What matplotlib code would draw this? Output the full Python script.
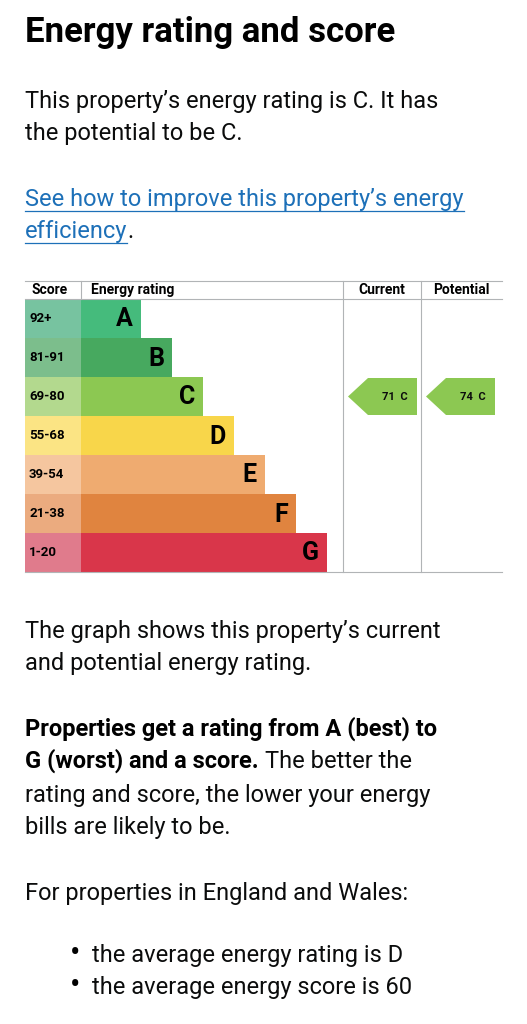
import matplotlib.pyplot as plt
from matplotlib.patches import Rectangle, Polygon

bands = ["A", "B", "C", "D", "E", "F", "G"]
scores = ["92+", "81-91", "69-80", "55-68", "39-54", "21-38", "1-20"]
bar_colors = ["#45bb7c", "#47a95f", "#8cc852", "#f8d64a", "#efab70", "#e0843f", "#d9364a"]
score_colors = ["#77c3a0", "#7cbe8c", "#b3d98e", "#fbe484", "#f5c69f", "#ebab7f", "#e07b8c"]
current_score, current_band = 71, "C"
potential_score, potential_band = 74, "C"

W, H = 527, 1024
fig = plt.figure(figsize=(W / 100, H / 100), dpi=100)
ax = fig.add_axes([0, 0, 1, 1])
ax.set_xlim(0, W)
ax.set_ylim(H, 0)
ax.axis("off")

fam = ["Roboto", "Liberation Sans", "DejaVu Sans"]
FS = 17
body = dict(fontsize=FS, family=fam, color="#0b0c0c", va="baseline")

ax.text(25, 42, "Energy rating and score", fontsize=25, fontweight="bold", family=fam, va="baseline")
ax.text(25, 108, "This property\u2019s energy rating is C. It has", **body)
ax.text(25, 140, "the potential to be C.", **body)

# link with underline
fig.canvas.draw()
r = fig.canvas.get_renderer()
inv = ax.transData.inverted()
for y, s, tail in [(206, "See how to improve this property\u2019s energy", ""), (238, "efficiency", ".")]:
    t = ax.text(25, y, s, fontsize=FS, family=fam, color="#1d70b8", va="baseline")
    bb = t.get_window_extent(r)
    x1 = inv.transform((bb.x1, 0))[0]
    ax.plot([25, x1], [y + 5, y + 5], color="#1d70b8", lw=0.9)
    if tail:
        ax.text(x1, y, tail, **body)

# EPC chart
top, hdr, rh = 281, 299, 39
left, sc_w, ra = 25, 56, 81
bar_ends = [141 + 31 * i for i in range(len(bands))]
cur_l, pot_l, right = 343, 421, 502
grid = "#b1b4b6"
ax.plot([left, right], [top, top], color=grid, lw=0.8)
ax.plot([left, right], [hdr, hdr], color=grid, lw=0.8)
bottom = hdr + rh * len(bands)
ax.plot([left, right], [bottom, bottom], color=grid, lw=0.8)
for x in (ra, cur_l, pot_l):
    ax.plot([x, x], [top, hdr if x == ra else bottom], color=grid, lw=0.8)
hk = dict(fontsize=10, fontweight="bold", family=fam, va="center")
ax.text(31, 290, "Score", **hk)
ax.text(91, 290, "Energy rating", **hk)
ax.text((cur_l + pot_l) / 2, 290, "Current", ha="center", **hk)
ax.text((pot_l + right) / 2, 290, "Potential", ha="center", **hk)

for i, (b, s) in enumerate(zip(bands, scores)):
    y0 = hdr + rh * i
    ax.add_patch(Rectangle((left, y0), sc_w, rh, color=score_colors[i], lw=0))
    ax.add_patch(Rectangle((ra, y0), bar_ends[i] - ra, rh, color=bar_colors[i], lw=0))
    ax.text(29, y0 + rh / 2, s, fontsize=9.5, fontweight="bold", family=fam, va="center")
    ax.text(bar_ends[i] - 8, y0 + rh / 2 + 1, b, fontsize=18, fontweight="bold",
            family=fam, ha="right", va="center")


def arrow(x0, x1, score, band):
    i = bands.index(band)
    y0 = hdr + rh * i + 1
    y1 = y0 + rh - 2
    ym = (y0 + y1) / 2
    ax.add_patch(Polygon([(x0, ym), (x0 + 20, y0), (x1, y0), (x1, y1), (x0 + 20, y1)],
                         closed=True, color=bar_colors[i], lw=0))
    ax.text(x1 - 9, ym, f"{score}  {band}", fontsize=8, fontweight="bold", family=fam,
            ha="right", va="center", color="#0b0c0c")


arrow(cur_l + 5, pot_l - 4, current_score, current_band)
arrow(pot_l + 5, right - 7, potential_score, potential_band)

ax.text(25, 638, "The graph shows this property\u2019s current", **body)
ax.text(25, 670, "and potential energy rating.", **body)
ax.text(25, 736, "Properties get a rating from A (best) to", fontsize=FS, fontweight="bold", family=fam, va="baseline")
t = ax.text(25, 768, "G (worst) and a score.", fontsize=FS, fontweight="bold", family=fam, va="baseline")
fig.canvas.draw()
bb = t.get_window_extent(fig.canvas.get_renderer())
ax.text(inv.transform((bb.x1, 0))[0] + 6, 768, "The better the", **body)
ax.text(25, 802, "rating and score, the lower your energy", **body)
ax.text(25, 834, "bills are likely to be.", **body)
ax.text(25, 900, "For properties in England and Wales:", **body)
for y, s in [(962, "the average energy rating is D"), (994, "the average energy score is 60")]:
    ax.text(70, y, "\u2022", fontsize=22, family=fam, va="baseline")
    ax.text(92, y, s, **body)

fig.savefig("out.png", dpi=100)
